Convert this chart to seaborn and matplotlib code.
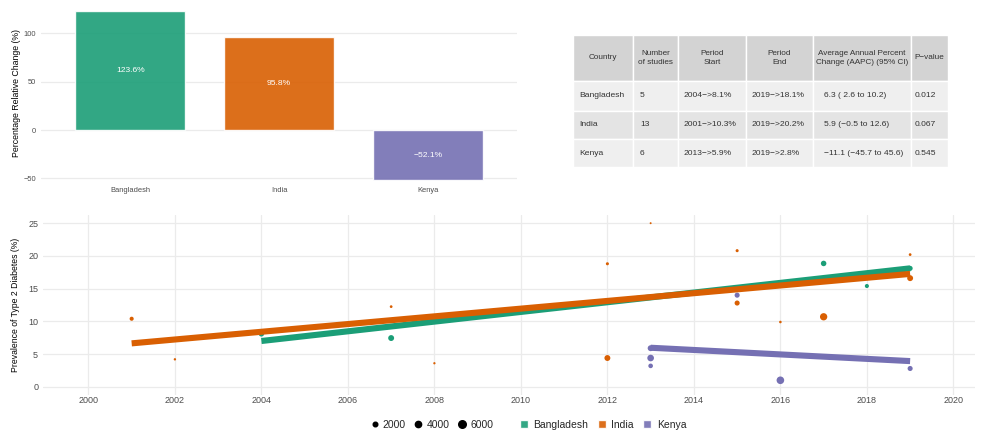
import numpy as np
import pandas as pd
import matplotlib
matplotlib.use("Agg")
import matplotlib.pyplot as plt
from matplotlib.lines import Line2D
from matplotlib.patches import Rectangle
import seaborn as sns

# ---- data ----
countries = ["Bangladesh", "India", "Kenya"]
rel_change = [123.6, 95.8, -52.1]
palette = {"Bangladesh": "#1B9E77", "India": "#D95F02", "Kenya": "#7570B3"}

# study level prevalence points
bd_year = [2004, 2007, 2017, 2018, 2019]
bd_prev = [8.1, 7.45, 18.85, 15.4, 18.1]
bd_n = [3000, 3500, 3000, 1500, 2500]

in_year = [2001, 2002, 2007, 2008, 2012, 2012, 2013, 2015, 2015, 2016, 2017, 2019, 2019]
in_prev = [10.4, 4.2, 12.25, 3.6, 18.8, 4.4, 25.0, 20.8, 12.8, 9.9, 10.7, 20.2, 16.6]
in_n = [1500, 300, 500, 250, 700, 3500, 100, 700, 2500, 400, 5500, 500, 3500]

ke_year = [2013, 2013, 2013, 2015, 2016, 2019]
ke_prev = [5.9, 4.4, 3.2, 14.0, 1.0, 2.8]
ke_n = [3500, 4500, 2000, 2500, 6000, 2500]

# fitted trend endpoints
trend_country = ["Bangladesh", "Bangladesh", "India", "India", "Kenya", "Kenya"]
trend_year = [2004, 2019, 2001, 2019, 2013, 2019]
trend_prev = [7.0, 18.1, 6.64, 17.25, 5.97, 3.93]

# table
table_header = ["Country", "Number\nof studies", "Period\nStart", "Period\nEnd",
                "Average Annual Percent\nChange (AAPC) (95% CI)", "P\u2212value"]
table_rows = [
    ["Bangladesh", "5", "2004\u2212>8.1%", "2019\u2212>18.1%", "6.3 ( 2.6 to 10.2)", "0.012"],
    ["India", "13", "2001\u2212>10.3%", "2019\u2212>20.2%", "5.9 (\u22120.5 to 12.6)", "0.067"],
    ["Kenya", "6", "2013\u2212>5.9%", "2019\u2212>2.8%", "\u221211.1 (\u221245.7 to 45.6)", "0.545"],
]

size_breaks = [2000, 4000, 6000]

pts = pd.DataFrame({
    "country": ["Bangladesh"] * len(bd_year) + ["India"] * len(in_year) + ["Kenya"] * len(ke_year),
    "year": bd_year + in_year + ke_year,
    "prev": bd_prev + in_prev + ke_prev,
    "n": bd_n + in_n + ke_n,
})
trend = pd.DataFrame({"country": trend_country, "year": trend_year, "prev": trend_prev})

sns.set_theme(style="white")
plt.rcParams["font.family"] = ["Liberation Sans", "DejaVu Sans"]
grid_col = "#ebebeb"
tick_col = "#4d4d4d"

W, H = 986, 432
fig = plt.figure(figsize=(W / 100, H / 100), dpi=100)


def px_axes(x0, y0, x1, y1):
    return fig.add_axes([x0 / W, 1 - y1 / H, (x1 - x0) / W, (y1 - y0) / H])


# ---- top left: bar chart ----
ax1 = px_axes(41, 2, 517, 184)
sns.barplot(x=countries, y=rel_change, hue=countries, palette=palette, alpha=0.9,
            saturation=1, width=0.74, legend=False, ax=ax1, zorder=3)
for i, v in enumerate(rel_change):
    ax1.text(i, v / 2, f"{v:.1f}%".replace("-", "\u2212"), color="white",
             ha="center", va="center", fontsize=6.1, zorder=4)
ax1.set_xlim(-0.6, 2.6)
ax1.set_ylim(-55.8, 132.4)
ax1.set_yticks([-50, 0, 50, 100])
ax1.yaxis.grid(True, color=grid_col, linewidth=0.9, zorder=0)
ax1.xaxis.grid(False)
ax1.tick_params(length=0, labelsize=5.4, labelcolor=tick_col)
ax1.tick_params(axis="y", pad=3.5)
ax1.tick_params(axis="x", pad=2.5)
ax1.set_ylabel("Percentage Relative Change (%)", fontsize=6.3, color="black")
ax1.yaxis.set_label_coords((21 - 41) / (517 - 41), 0.5)
sns.despine(ax=ax1, left=True, bottom=True)

# ---- top right: table ----
axt = px_axes(573, 35, 948, 167.3)
axt.set_xlim(0, 1)
axt.set_ylim(0, 1)
axt.invert_yaxis()
axt.axis("off")
col_px = [573, 633, 678, 746, 813, 911, 948]
row_px = [35, 80.7, 110.7, 139, 167.3]
col_x = [(c - 573) / (948 - 573) for c in col_px]
row_y = [(r - 35) / (167.3 - 35) for r in row_px]
row_fill = ["#d3d3d3", "#efefef", "#e4e4e4", "#efefef"]
text_pad = [6, 7, 6, 6, 11, 4]
for r in range(4):
    for c in range(6):
        axt.add_patch(Rectangle((col_x[c], row_y[r]), col_x[c + 1] - col_x[c],
                                row_y[r + 1] - row_y[r], facecolor=row_fill[r],
                                edgecolor="white", linewidth=1.0))
        yc = (row_y[r] + row_y[r + 1]) / 2
        if r == 0:
            axt.text((col_x[c] + col_x[c + 1]) / 2, yc, table_header[c], ha="center",
                     va="center", fontsize=5.9, color="#333333", linespacing=1.5)
        else:
            axt.text(col_x[c] + text_pad[c] / (948 - 573), yc, table_rows[r - 1][c],
                     ha="left", va="center", fontsize=6.1, color="#333333")

# ---- bottom: prevalence over time ----
ax2 = px_axes(43, 215, 975, 395)
sns.scatterplot(data=pts, x="year", y="prev", hue="country", size="n", palette=palette,
                sizes=(2, 30), size_norm=(100, 6000), linewidth=0, legend=False,
                ax=ax2, zorder=2)
sns.lineplot(data=trend, x="year", y="prev", hue="country", palette=palette,
             hue_order=countries, linewidth=4.4, legend=False, ax=ax2, zorder=3,
             solid_capstyle="butt")
ax2.set_xlim(1998.95, 2020.5)
ax2.set_ylim(-1.25, 26.25)
ax2.set_xticks(np.arange(2000, 2021, 2))
ax2.set_yticks([0, 5, 10, 15, 20, 25])
ax2.grid(True, color=grid_col, linewidth=0.9, zorder=0)
ax2.set_axisbelow(True)
ax2.tick_params(length=0, labelsize=6.5, labelcolor=tick_col)
ax2.tick_params(axis="y", pad=3.5)
ax2.tick_params(axis="x", pad=1)
ax2.set_xlabel("")
ax2.set_ylabel("Prevalence of Type 2 Diabetes (%)", fontsize=6.2, color="black")
ax2.yaxis.set_label_coords((20.5 - 43) / (975 - 43), 0.5)
sns.despine(ax=ax2, left=True, bottom=True)

# ---- legends ----
size_handles = []
for b in size_breaks:
    s = 2 + (b - 100) / (6000 - 100) * (30 - 2)
    size_handles.append(Line2D([], [], marker="o", linestyle="", color="black",
                               markersize=np.sqrt(s), label=str(b)))
fig.legend(handles=size_handles, loc="center", bbox_to_anchor=(432 / W, 1 - 425 / H),
           ncol=3, frameon=False, fontsize=7.5, handlelength=0.8,
           handletextpad=0.4, columnspacing=0.8)
col_handles = [Rectangle((0, 0), 1, 1, facecolor=palette[c], alpha=0.9, label=c)
               for c in countries]
fig.legend(handles=col_handles, loc="center", bbox_to_anchor=(603 / W, 1 - 425 / H),
           ncol=3, frameon=False, fontsize=7.5, handlelength=0.8, handleheight=0.8,
           handletextpad=0.5, columnspacing=0.9)

fig.savefig("out.png", dpi=100)
